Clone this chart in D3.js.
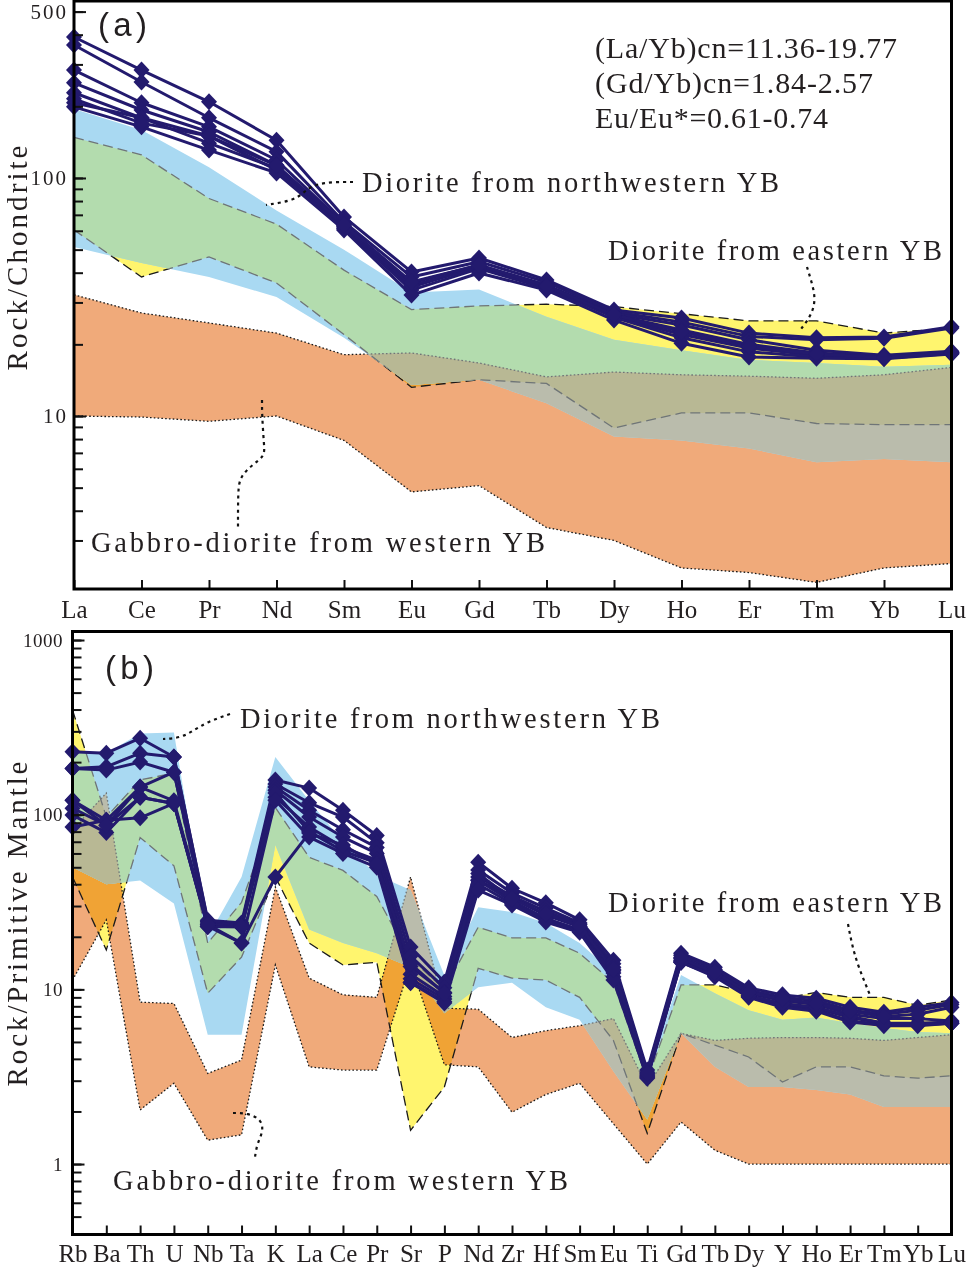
<!DOCTYPE html>
<html>
<head>
<meta charset="utf-8">
<script src="https://cdn.jsdelivr.net/npm/d3@7"></script>
<style>
  body { margin: 0; background: #fff; }
  svg { display: block; background: #fff; }
  text { font-family: "Liberation Serif", "Times New Roman", serif; fill: #231f20; }
</style>
</head>
<body>
<div id="chart"></div>
<script>
// ---------- data: panel (a) chondrite-normalised REE ----------
var reeElements = ["La", "Ce", "Pr", "Nd", "Sm", "Eu", "Gd", "Tb", "Dy", "Ho", "Er", "Tm", "Yb", "Lu"];

var reeSamples = [
  [391, 284, 209, 144, 68.6, 40.3, 46.1, 37.3, 27.9, 25.8, 22.3, 21.3, 21.5, 23.7],
  [362, 253, 179, 129, 65.3, 38.4, 44.5, 36.5, 27.4, 24.8, 21.6, 20.9, 21.2, 23.4],
  [284, 207, 164, 119, 64.0, 36.2, 43.1, 35.5, 26.9, 24.1, 20.9, 18.9, 18.0, 18.7],
  [251, 193, 156, 113, 62.2, 34.8, 42.5, 35.0, 26.6, 23.0, 20.0, 18.4, 17.8, 18.5],
  [228, 179, 140, 110, 61.4, 33.8, 41.6, 34.4, 26.2, 22.0, 19.3, 18.0, 17.6, 18.4],
  [207, 179, 150, 108, 62.8, 35.4, 42.0, 34.6, 26.0, 21.3, 18.6, 17.7, 17.5, 18.3],
  [199, 164, 131, 105, 60.5, 32.2, 39.9, 33.8, 25.3, 20.2, 17.7, 17.5, 17.4, 18.2],
  [215, 170, 150, 113, 63.5, 36.6, 43.0, 35.2, 26.6, 22.6, 19.6, 18.2, 17.6, 18.5]
];

// field of diorite from northwestern YB (blue)
var reeNwUpper = [195, 159, 111, 73, 50, 33, 34, 26.1, 20.9, 18.9, 17.2, 16.7, 16.1, 16.4];
var reeNwLower = [51.3, 43.9, 38.4, 31.6, 21.3, 13.5, 14.2, 11.3, 8.2, 7.9, 7.3, 6.4, 6.6, 6.4];
// field of diorite from eastern YB (yellow)
var reeEastUpper = [148, 125, 82, 64, 41, 28, 29, 29.5, 28.8, 26.9, 25.1, 25.1, 22.3, 23.4];
var reeEastLower = [60.5, 38.4, 46.6, 36.2, 22, 13.2, 14.2, 13.7, 8.9, 10.3, 10.3, 9.3, 9.2, 9.2];
// field of gabbro-diorite from western YB (orange)
var reeWestUpper = [32.3, 27.1, 24.6, 22.3, 18.1, 18.4, 16.7, 14.6, 15.3, 14.9, 14.7, 14.4, 14.9, 16.0];
var reeWestLower = [10.0, 9.9, 9.5, 10.0, 7.9, 4.8, 5.1, 3.4, 3.0, 2.3, 2.2, 2.0, 2.3, 2.4];

var reeTickLabels = [10, 100, 500];

// ---------- data: panel (b) primitive-mantle-normalised spider ----------
var pmElements = ["Rb", "Ba", "Th", "U", "Nb", "Ta", "K", "La", "Ce", "Pr", "Sr", "P", "Nd", "Zr", "Hf",
  "Sm", "Eu", "Ti", "Gd", "Tb", "Dy", "Y", "Ho", "Er", "Tm", "Yb", "Lu"];

var pmSamples = [
  [229, 225, 274, 214, 24.9, 24.0, 158, 142, 106, 76, 17.5, 11.0, 53.5, 37.9, 31.3, 25.0, 14.7, 3.45, 16.1, 13.4, 10.2, 9.3, 8.9, 7.9, 7.4, 7.9, 8.4],
  [184, 188, 225, 214, 24.5, 23.5, 150, 117, 97, 69, 15.5, 10.2, 48.2, 35.6, 29.2, 24.0, 14.0, 3.35, 15.7, 13.0, 9.9, 9.0, 8.6, 7.6, 7.2, 7.6, 8.2],
  [184, 180, 200, 175, 24.0, 23.2, 144, 106, 82, 65, 13.5, 9.6, 44.0, 34.2, 28.0, 23.5, 13.4, 3.25, 15.2, 12.6, 9.5, 8.6, 8.2, 7.2, 6.8, 6.8, 6.6],
  [121, 93, 144, 175, 23.5, 22.8, 138, 97, 74.5, 60, 12.2, 9.1, 42.3, 33.3, 26.6, 22.8, 12.8, 3.2, 14.7, 12.2, 9.2, 8.2, 7.8, 6.9, 6.4, 6.4, 6.5],
  [109, 87, 126, 116, 23.0, 22.8, 126, 85, 65, 55, 11.5, 8.8, 42.0, 32.0, 25.5, 22.0, 12.4, 3.15, 14.5, 12.0, 9.1, 8.0, 7.6, 6.6, 6.3, 6.3, 6.4],
  [99.5, 79, 126, 116, 22.8, 22.8, 133, 80, 62, 53, 11.0, 8.5, 40.0, 31.0, 25.0, 21.5, 11.8, 3.1, 14.3, 11.8, 9.0, 7.9, 7.5, 6.5, 6.2, 6.2, 6.4],
  [85, 93, 96, 116, 23.0, 18.4, 121, 74.5, 60, 50, 10.9, 8.35, 37.0, 30.4, 24.3, 21.2, 11.3, 3.15, 14.3, 12.0, 9.2, 8.3, 7.9, 7.0, 6.4, 6.3, 6.4],
  [121, 87, 144, 120, 23.5, 18.4, 44, 78.5, 67, 52, 14.0, 9.5, 46.0, 33.0, 27.0, 23.0, 13.0, 3.3, 15.0, 12.5, 9.6, 8.8, 8.3, 7.5, 7.0, 7.2, 7.9]
];

var pmNwUpper = [234, 225, 292, 296, 19.9, 44, 214, 120, 70, 45, 37, 12, 29.5, 27.7, 24, 18.4, 12.4, 3.3, 12.1, 9.5, 7.6, 6.7, 6.9, 6.4, 6.0, 5.7, 5.6];
var pmNwLower = [50, 40, 42, 31, 5.5, 5.5, 67, 22, 18.4, 16.1, 13.4, 7.3, 10.3, 10.9, 7.9, 6.7, 3.4, 1.8, 5.6, 3.6, 2.76, 2.76, 2.65, 2.5, 2.12, 2.12, 2.12];
var pmEastUpper = [398, 97, 158, 173, 18.4, 31.5, 110, 57, 48, 34, 15, 10, 22.7, 19.7, 19.7, 16.1, 10.9, 3.0, 10.6, 10.6, 9.6, 8.9, 9.6, 9.0, 9.0, 8.1, 8.7];
var pmEastLower = [44, 16.8, 74, 51, 9.5, 15.3, 44, 18.4, 13.8, 14.3, 1.56, 2.76, 13.2, 11.6, 11.3, 9.0, 5.1, 1.5, 5.6, 4.8, 4.1, 2.95, 3.6, 3.6, 3.2, 3.1, 3.2];
var pmWestUpper = [82, 133, 8.45, 8.3, 3.3, 3.94, 38.5, 11.6, 9.3, 9.0, 44, 7.8, 7.7, 5.3, 5.8, 6.2, 6.8, 2.76, 5.6, 5.1, 5.25, 5.3, 5.3, 5.25, 5.1, 5.3, 5.5];
var pmWestLower = [11.3, 25, 2.04, 2.9, 1.37, 1.47, 13.8, 3.6, 3.45, 3.45, 14, 3.7, 3.6, 1.98, 2.5, 2.9, 1.7, 1.0, 1.74, 1.2, 1.0, 1.0, 1.0, 1.0, 1.0, 1.0, 1.0];

var pmTickLabels = [1, 10, 100, 1000];

// ---------- colours ----------
var sampleColor = "#231a6e";
var westColor = "#f0aa7a";     // gabbro-diorite, western YB
var eastColor = "#fff56e";     // diorite, eastern YB
var nwColor = "#a9d9f2";       // diorite, northwestern YB
var nwEastColor = "#b3dcae";   // blue over yellow
var nwWestColor = "#babcac";   // blue over orange
var nwAllColor = "#b8b894";    // blue over orange and yellow
var serif = "'Liberation Serif', 'Times New Roman', serif";

var svg = d3.select("#chart").append("svg")
  .attr("width", 967)
  .attr("height", 1267);
var defs = svg.append("defs");

function drawPanel(p) {
  var x = d3.scalePoint().domain(p.elements).range([p.x0, p.x1]);
  var y = d3.scaleLog().domain(p.domain).range([p.y1, p.y0]);
  var g = svg.append("g");

  var area = function(upper, lower) {
    return d3.area()
      .x(function(d, i) { return x(p.elements[i]); })
      .y0(function(d, i) { return y(lower[i]); })
      .y1(function(d, i) { return y(upper[i]); })(p.elements);
  };
  var line = d3.line()
    .x(function(d, i) { return x(p.elements[i]); })
    .y(function(d) { return y(d); });

  var nwArea = area(p.nwUp, p.nwLo);
  var westArea = area(p.westUp, p.westLo);
  var eastArea = area(p.eastUp, p.eastLo);
  defs.append("clipPath").attr("id", "nw" + p.id).append("path").attr("d", nwArea);
  defs.append("clipPath").attr("id", "west" + p.id).append("path").attr("d", westArea);

  function borders(sel, color) {
    [p.westUp, p.westLo].forEach(function(s) {
      sel.append("path").attr("d", line(s)).attr("fill", "none")
        .attr("stroke", color).attr("stroke-width", 1.3).attr("stroke-dasharray", "1.6,2.2");
    });
    [p.eastUp, p.eastLo].forEach(function(s) {
      sel.append("path").attr("d", line(s)).attr("fill", "none")
        .attr("stroke", color).attr("stroke-width", 1.3).attr("stroke-dasharray", "10,5");
    });
  }

  // fields
  g.append("path").attr("d", westArea).attr("fill", westColor);
  g.append("path").attr("d", eastArea).attr("fill", eastColor).style("mix-blend-mode", "multiply");
  borders(g, "#1a1a1a");
  g.append("path").attr("d", nwArea).attr("fill", nwColor);
  var inNw = g.append("g").attr("clip-path", `url(#nw${p.id})`);
  inNw.append("path").attr("d", eastArea).attr("fill", nwEastColor);
  inNw.append("path").attr("d", westArea).attr("fill", nwWestColor);
  inNw.append("path").attr("d", eastArea).attr("fill", nwAllColor)
    .attr("clip-path", `url(#west${p.id})`);
  borders(inNw, "#6f7577");

  // samples
  g.selectAll(".sample").data(p.samples).enter().append("path")
    .attr("d", line).attr("fill", "none")
    .attr("stroke", sampleColor).attr("stroke-width", 3).attr("stroke-linejoin", "round");
  p.samples.forEach(function(s) {
    g.selectAll(null).data(s).enter().append("path")
      .attr("d", "M0,-8.5L8,0L0,8.5L-8,0Z")
      .attr("transform", function(d, i) { return `translate(${x(p.elements[i])},${y(d)})`; })
      .attr("fill", sampleColor);
  });

  // y axis: minor and major ticks (inward)
  var minor = y.ticks().filter(function(v) { return v > p.domain[0] * 1.1; });
  var yMinor = g.append("g").attr("transform", `translate(${p.x0},0)`)
    .call(d3.axisLeft(y).tickValues(minor).tickSizeInner(-9).tickSizeOuter(0).tickFormat(""));
  yMinor.select(".domain").remove();
  var yMajor = g.append("g").attr("transform", `translate(${p.x0},0)`)
    .call(d3.axisLeft(y).tickValues(p.majors).tickSizeInner(-12).tickSizeOuter(0)
      .tickPadding(p.tickPad).tickFormat(d3.format("d")));
  yMajor.select(".domain").remove();
  yMajor.selectAll("text").style("font-size", p.tickFont + "px")
    .style("letter-spacing", p.tickSpacing + "px")
    .style("font-family", serif).attr("fill", "#231f20");
  g.selectAll(".tick line").attr("stroke", "#111").attr("stroke-width", 2);

  // x axis
  var xAx = g.append("g").attr("transform", `translate(0,${p.y1})`)
    .call(d3.axisBottom(x).tickSizeInner(-9).tickSizeOuter(0));
  xAx.select(".domain").remove();
  xAx.selectAll("line").attr("stroke", "#111").attr("stroke-width", 2);
  xAx.selectAll("text").attr("y", p.labelOffset).attr("dy", 0)
    .style("font-size", "25px").style("font-family", serif).attr("fill", "#231f20");

  // frame
  g.append("rect").attr("x", p.x0).attr("y", p.y0)
    .attr("width", p.x1 - p.x0).attr("height", p.y1 - p.y0)
    .attr("fill", "none").attr("stroke", "#000").attr("stroke-width", 3);

  // axis title
  g.append("text")
    .attr("transform", `translate(${p.titleX},${p.titleY}) rotate(-90)`)
    .attr("text-anchor", "middle")
    .attr("textLength", p.titleLen).attr("lengthAdjust", "spacing")
    .style("font-family", serif).style("font-size", "29px")
    .text(p.title);

  // panel letter
  g.append("text").attr("x", p.letter[0]).attr("y", p.letter[1])
    .attr("textLength", 49).attr("lengthAdjust", "spacing")
    .style("font-family", "'Liberation Sans', Arial, sans-serif").style("font-size", "33px")
    .text(p.letterText);

  // field labels and leader lines
  p.notes.forEach(function(n) {
    g.append("text").attr("x", n.x).attr("y", n.y)
      .attr("textLength", n.len).attr("lengthAdjust", "spacing")
      .style("font-family", serif).style("font-size", "28.5px").text(n.text);
    g.append("path").attr("d", d3.line().curve(d3.curveBasis)(n.leader))
      .attr("fill", "none").attr("stroke", "#111").attr("stroke-width", 2.2)
      .attr("stroke-dasharray", "3,4");
  });
  return g;
}

var gA = drawPanel({
  id: "A",
  elements: reeElements, samples: reeSamples,
  nwUp: reeNwUpper, nwLo: reeNwLower, eastUp: reeEastUpper, eastLo: reeEastLower,
  westUp: reeWestUpper, westLo: reeWestLower,
  x0: 74, x1: 951.5, y0: 1, y1: 589, domain: [1.876, 554],
  majors: reeTickLabels, tickPad: 6, tickFont: 21, tickSpacing: 2, labelOffset: 29,
  title: "Rock/Chondrite", titleX: 27, titleY: 258, titleLen: 225,
  letter: [98, 36], letterText: "(a)",
  notes: [
    { text: "Diorite from northwestern YB", x: 362, y: 192, len: 417,
      leader: [[353, 182], [322, 182], [306, 189], [297, 200], [266, 205]] },
    { text: "Diorite from eastern YB", x: 608, y: 260, len: 334,
      leader: [[807, 267], [811, 280], [815, 295], [814, 308], [808, 320], [801, 329]] },
    { text: "Gabbro-diorite from western YB", x: 91, y: 552, len: 454,
      leader: [[262, 400], [262, 415], [264, 445], [265, 456], [252, 465], [240, 477], [238, 490], [238, 527]] }
  ]
});

// ratio annotations for panel (a)
var ratioLines = ["(La/Yb)cn=11.36-19.77", "(Gd/Yb)cn=1.84-2.57", "Eu/Eu*=0.61-0.74"];
var ratioLens = [302, 278, 233];
gA.selectAll(".ratio").data(ratioLines).enter().append("text")
  .attr("x", 595).attr("y", function(d, i) { return 58 + i * 35; })
  .attr("textLength", function(d, i) { return ratioLens[i]; }).attr("lengthAdjust", "spacing")
  .style("font-family", serif).style("font-size", "30px").text(function(d) { return d; });

drawPanel({
  id: "B",
  elements: pmElements, samples: pmSamples,
  nwUp: pmNwUpper, nwLo: pmNwLower, eastUp: pmEastUpper, eastLo: pmEastLower,
  westUp: pmWestUpper, westLo: pmWestLower,
  x0: 72.5, x1: 951.5, y0: 631.5, y1: 1234.5, domain: [0.395, 1119],
  majors: pmTickLabels, tickPad: 9.5, tickFont: 19, tickSpacing: 0.5, labelOffset: 27.5,
  title: "Rock/Primitive Mantle", titleX: 27, titleY: 924, titleLen: 325,
  letter: [105, 679], letterText: "(b)",
  notes: [
    { text: "Diorite from northwestern YB", x: 240, y: 728, len: 420,
      leader: [[230, 714], [207, 722], [193, 731], [180, 738], [163, 739]] },
    { text: "Diorite from eastern YB", x: 608, y: 912, len: 334,
      leader: [[848, 924], [852, 945], [858, 966], [870, 995]] },
    { text: "Gabbro-diorite from western YB", x: 113, y: 1190, len: 455,
      leader: [[233, 1113], [248, 1113], [262, 1120], [263, 1132], [257, 1144], [255, 1157]] }
  ]
});
</script>
</body>
</html>
